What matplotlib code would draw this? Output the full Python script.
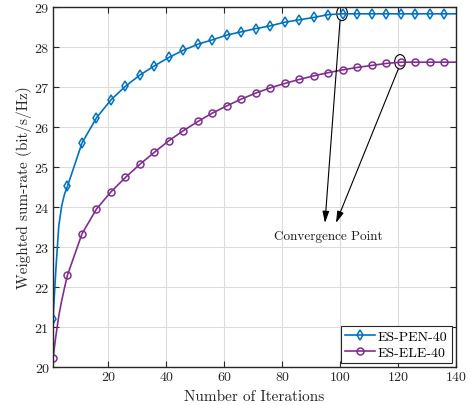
import numpy as np
import matplotlib
matplotlib.use('Agg')
import matplotlib.pyplot as plt
from matplotlib.patches import Ellipse

plt.rcParams['font.family'] = ['cmr10', 'DejaVu Serif']
plt.rcParams['axes.formatter.use_mathtext'] = True
plt.rcParams['mathtext.fontset'] = 'cm'

# iterations (every iteration early on, then every 5)
iters = [1, 2, 3, 4, 5, 6, 11, 16, 21, 26, 31, 36, 41, 46, 51, 56, 61, 66, 71,
         76, 81, 86, 91, 96, 101, 106, 111, 116, 121, 126, 131, 136, 140]
pen40 = [21.2, 22.45, 23.53, 24.03, 24.33, 24.52, 25.6, 26.23, 26.68, 27.02, 27.3,
         27.53, 27.74, 27.92, 28.07, 28.18, 28.3, 28.38, 28.46,
         28.53, 28.62, 28.68, 28.74, 28.81, 28.83, 28.83, 28.83, 28.83, 28.83,
         28.83, 28.83, 28.83, 28.83]
ele40 = [20.22, 20.78, 21.28, 21.66, 21.99, 22.3, 23.33, 23.95, 24.38, 24.74, 25.07,
         25.37, 25.66, 25.91, 26.14, 26.35, 26.53, 26.7, 26.85,
         26.98, 27.09, 27.19, 27.28, 27.36, 27.43, 27.49, 27.54, 27.59, 27.62,
         27.62, 27.62, 27.62, 27.62]

# marker every 5 iterations
mk = [i for i, it in enumerate(iters) if (it - 1) % 5 == 0]

blue = '#0072BD'
purple = '#7E2F8E'

fig = plt.figure(figsize=(4.71, 4.06), dpi=100)
ax = fig.add_axes([53 / 471, 1 - 368 / 406, 403 / 471, 360 / 406])

ax.plot(iters, pen40, color=blue, lw=1.2, marker='d', ms=5, mfc='none', mew=1.1,
        markevery=mk, label='ES-PEN-40')
ax.plot(iters, ele40, color=purple, lw=1.2, marker='o', ms=5, mfc='none', mew=1.1,
        markevery=mk, label='ES-ELE-40')

ax.set_xlim(1, 140)
ax.set_ylim(20, 29)
ax.set_xticks(np.arange(20, 141, 20))
ax.set_yticks(np.arange(20, 30, 1))
ax.set_xticklabels([str(v) for v in range(20, 141, 20)])
ax.set_yticklabels([str(v) for v in range(20, 30)])
ax.grid(True, color='#dcdcdc', lw=0.8)
ax.set_axisbelow(True)
ax.tick_params(direction='in', top=True, right=True, labelsize=10, length=4,
               color='#262626', labelcolor='#262626', pad=3)
for s in ax.spines.values():
    s.set_color('#262626')
    s.set_linewidth(1.0)

ax.set_xlabel('Number of Iterations', fontsize=11, color='#262626', labelpad=4)
ax.set_ylabel('Weighted sum-rate (bit/s/Hz)', fontsize=11, color='#262626', labelpad=2)

# convergence markers
ax.add_patch(Ellipse((100.7, 28.84), 3.7, 0.36, fill=False, ec='black', lw=0.8))
ax.add_patch(Ellipse((120.7, 27.63), 3.7, 0.36, fill=False, ec='black', lw=0.8))
arw = dict(arrowstyle='-|>,head_length=0.7,head_width=0.2', color='black', lw=0.8,
           shrinkA=0, shrinkB=0)
ax.annotate('', xy=(94.8, 23.6), xytext=(100.0, 28.66), arrowprops=arw)
ax.annotate('', xy=(98.6, 23.6), xytext=(120.1, 27.45), arrowprops=arw)
ax.text(96, 23.27, 'Convergence Point', fontsize=9.5, ha='center', va='center',
        color='#1a1a1a')

leg = ax.legend(loc='lower right', fontsize=10, frameon=True, fancybox=False,
                edgecolor='#262626', framealpha=1, borderaxespad=0.3,
                handlelength=2.2, handletextpad=0.2, borderpad=0.3, labelspacing=0.2)
leg.get_frame().set_linewidth(0.8)

fig.savefig('out.png', dpi=100)
